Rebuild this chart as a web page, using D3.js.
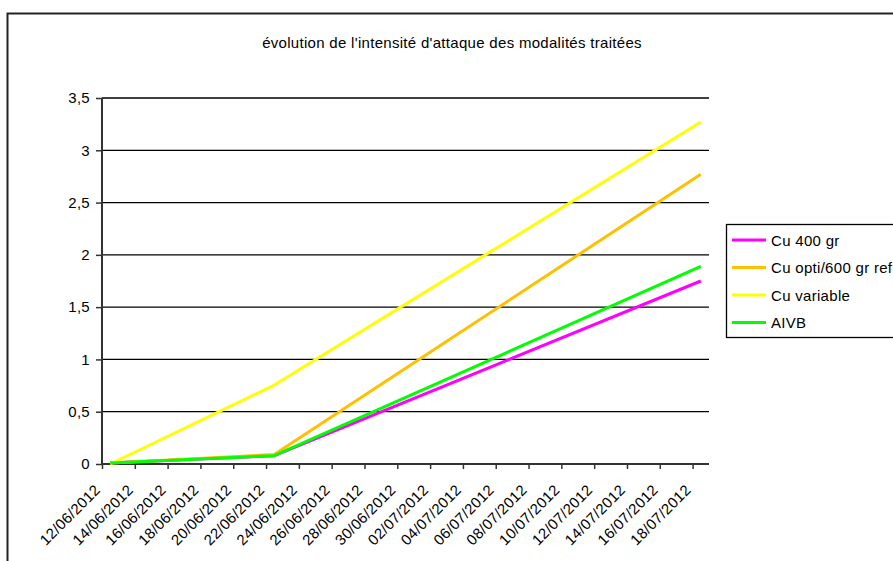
<!DOCTYPE html>
<html>
<head>
<meta charset="utf-8">
<script src="https://cdn.jsdelivr.net/npm/d3@7"></script>
<style>
  html, body { margin: 0; padding: 0; background: #fff; }
  svg { display: block; font-family: "Liberation Sans", Arial, sans-serif; }
  svg text { letter-spacing: 0.3px; }
</style>
</head>
<body>
<svg id="chart" width="893" height="561"></svg>
<script>
// Observation dates and intensity of attack per treatment
const dates = ["12/06/2012", "22/06/2012", "18/07/2012"];
const cu400 = [0.01, 0.08, 1.75];
const cuOpti = [0.01, 0.09, 2.77];
const cuVariable = [0, 0.755, 3.27];
const aivb = [0.01, 0.08, 1.89];
const seriesNames = ["Cu 400 gr", "Cu opti/600 gr ref", "Cu variable", "AIVB"];
const yTicks = [0, 0.5, 1, 1.5, 2, 2.5, 3, 3.5];
const title = "évolution de l'intensité d'attaque des modalités traitées";

(function () {
  const colors = ["#FF00FF", "#FFC000", "#FFFF00", "#00FF00"];
  const parse = d3.timeParse("%d/%m/%Y");
  const fmt = d3.timeFormat("%d/%m/%Y");
  const series = [cu400, cuOpti, cuVariable, aivb].map((vals, i) => ({
    name: seriesNames[i],
    color: colors[i],
    points: vals.map((v, j) => ({ date: parse(dates[j]), value: v }))
  }));

  const svg = d3.select("#chart");
  const plotLeft = 102, plotRight = 709, plotTop = 98, plotBottom = 464;
  const fontSize = 15;

  // Outer chart frame
  svg.append("rect")
    .attr("x", 7.5).attr("y", 13.5)
    .attr("width", 1000).attr("height", 1000)
    .attr("fill", "none").attr("stroke", "#222").attr("stroke-width", 2);

  // Date axis: each day is a band; points sit in the middle of their day
  const firstDay = parse(dates[0]);
  const lastDay = d3.timeDay.offset(parse(dates[dates.length - 1]), 1);
  const x = d3.scaleTime().domain([firstDay, lastDay]).range([plotLeft, plotRight]);
  const mid = d => x(d3.timeHour.offset(d, 12));
  const y = d3.scaleLinear().domain([0, 3.5]).range([plotBottom, plotTop]);

  // Horizontal gridlines
  svg.append("g")
    .selectAll("line")
    .data(yTicks.filter(t => t > 0))
    .join("line")
    .attr("x1", plotLeft).attr("x2", plotRight)
    .attr("y1", d => y(d)).attr("y2", d => y(d))
    .attr("stroke", "#000").attr("stroke-width", 1.3);

  // Y axis
  const yAxis = svg.append("g")
    .attr("transform", `translate(${plotLeft},0)`)
    .call(d3.axisLeft(y).tickValues(yTicks).tickSize(6).tickPadding(6)
      .tickFormat(d => String(d).replace(".", ",")));
  yAxis.select(".domain").attr("stroke", "#333").attr("stroke-width", 2)
    .attr("d", `M0,${plotTop}V${plotBottom}`);
  yAxis.selectAll(".tick line").attr("stroke", "#333").attr("stroke-width", 1.5);
  yAxis.selectAll("text").attr("font-size", fontSize).attr("fill", "#000")
    .attr("font-family", "Liberation Sans, Arial, sans-serif");

  // X axis: a tick every two days
  const tickDates = d3.timeDay.range(firstDay, lastDay, 2);
  const xAxis = svg.append("g")
    .attr("transform", `translate(0,${plotBottom})`)
    .call(d3.axisBottom(x).tickValues(tickDates).tickSize(5).tickFormat(""));
  xAxis.select(".domain").attr("stroke", "#333").attr("stroke-width", 2)
    .attr("d", `M${plotLeft},0H${plotRight}`);
  xAxis.selectAll(".tick line").attr("stroke", "#333").attr("stroke-width", 1.5);

  svg.append("g")
    .selectAll("text")
    .data(tickDates)
    .join("text")
    .attr("transform", d => `translate(${mid(d) - 9},${plotBottom + 27}) rotate(-45)`)
    .attr("text-anchor", "end")
    .attr("font-size", fontSize)
    .attr("fill", "#000")
    .text(d => fmt(d));

  // Series lines
  const line = d3.line().x(d => mid(d.date)).y(d => y(d.value));
  svg.append("g")
    .selectAll("path")
    .data(series)
    .join("path")
    .attr("d", d => line(d.points))
    .attr("fill", "none")
    .attr("stroke", d => d.color)
    .attr("stroke-width", 3)
    .attr("stroke-linejoin", "round");

  // Title
  svg.append("text")
    .attr("x", 452).attr("y", 48)
    .attr("text-anchor", "middle")
    .attr("font-size", fontSize)
    .text(title);

  // Legend
  const lg = svg.append("g");
  lg.append("rect")
    .attr("x", 726.5).attr("y", 224.5)
    .attr("width", 300).attr("height", 113)
    .attr("fill", "#fff").attr("stroke", "#000").attr("stroke-width", 1.3);
  const items = lg.selectAll("g.item")
    .data(series)
    .join("g")
    .attr("class", "item")
    .attr("transform", (d, i) => `translate(732,${240 + i * 27.5})`);
  items.append("line")
    .attr("x1", 0).attr("x2", 34)
    .attr("stroke", d => d.color).attr("stroke-width", 3);
  items.append("text")
    .attr("x", 39).attr("y", 5.5)
    .attr("font-size", fontSize)
    .text(d => d.name);
})();
</script>
</body>
</html>
